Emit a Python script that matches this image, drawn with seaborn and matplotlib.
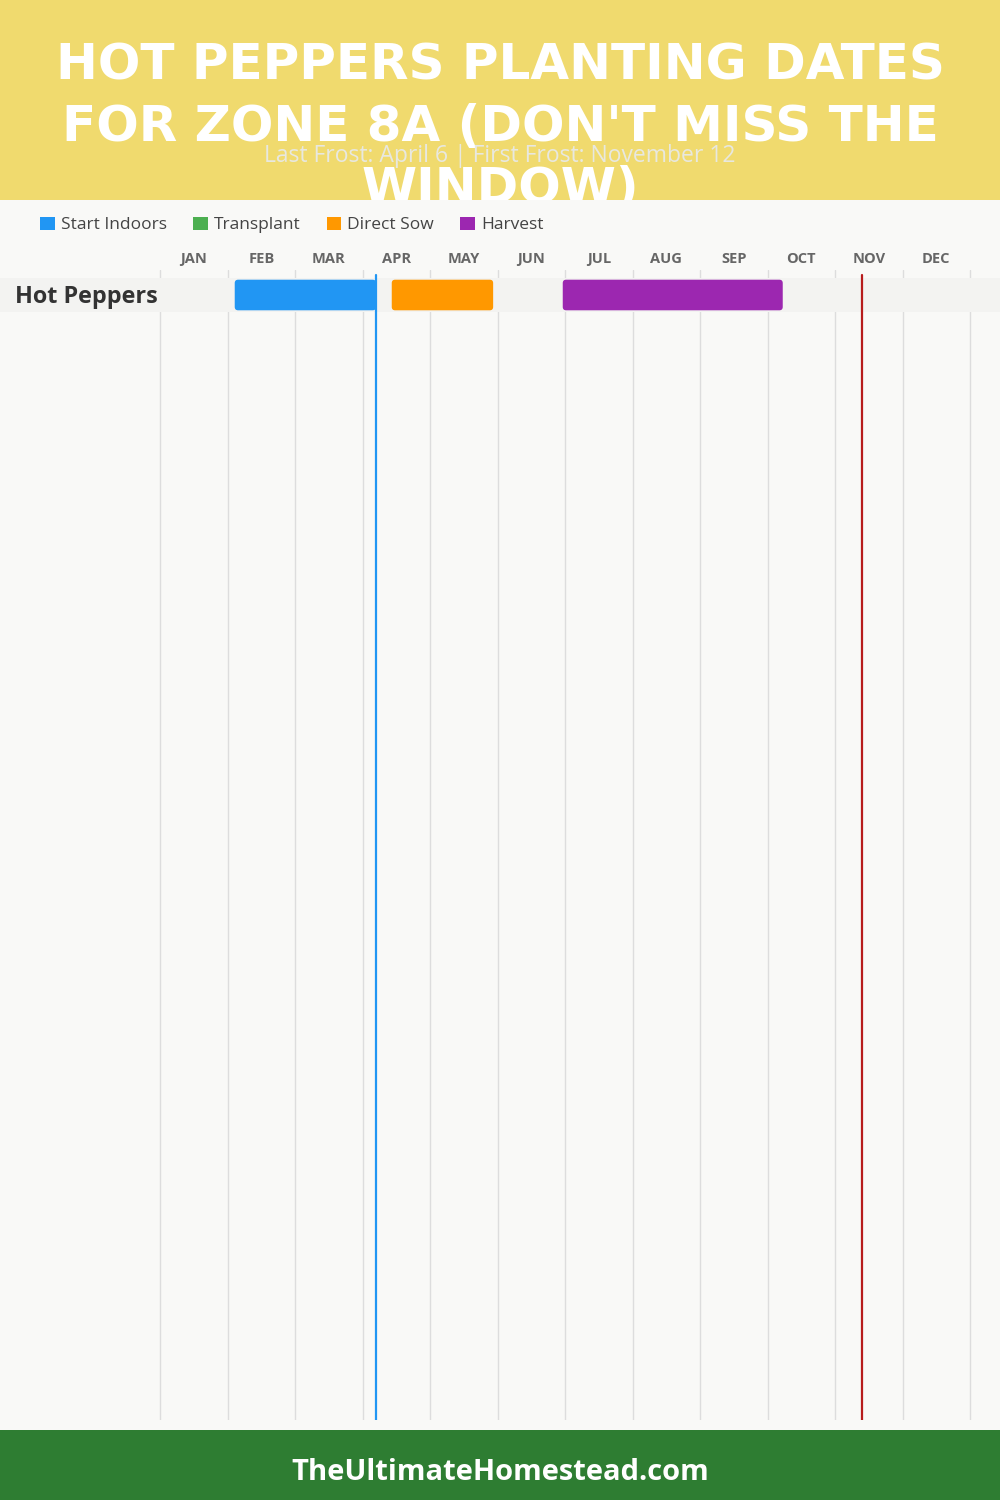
import matplotlib
matplotlib.use("Agg")
import matplotlib.pyplot as plt
from matplotlib.patches import Rectangle, FancyBboxPatch, Patch
import seaborn as sns
import pandas as pd

# ---------------- data ----------------
crops = ["Hot Peppers"]
phases = ["Start Indoors", "Direct Sow", "Harvest"]
phase_start = [(2, 3), (4, 13), (6, 29)]     # (month, day)
phase_end = [(4, 6), (5, 29), (10, 7)]
legend_labels = ["Start Indoors", "Transplant", "Direct Sow", "Harvest"]
legend_colors = ["#2196F3", "#4CAF50", "#FF9800", "#9C27B0"]
months = ["JAN", "FEB", "MAR", "APR", "MAY", "JUN", "JUL", "AUG", "SEP", "OCT", "NOV", "DEC"]
month_days = [31, 28, 31, 30, 31, 30, 31, 31, 30, 31, 30, 31]
last_frost = (4, 6)
first_frost = (11, 12)
title_lines = ["HOT PEPPERS PLANTING DATES", "FOR ZONE 8A (DON'T MISS THE", "WINDOW)"]
subtitle = "Last Frost: April 6 | First Frost: November 12"
footer = "TheUltimateHomestead.com"

phase_color = dict(zip(legend_labels, legend_colors))


def mpos(md):
    m, d = md
    return (m - 1) + d / month_days[m - 1]


df = pd.DataFrame({
    "crop": crops * len(phases),
    "phase": phases,
    "start": [mpos(s) for s in phase_start],
    "end": [mpos(e) for e in phase_end],
})
df["dur"] = df["end"] - df["start"]

# ---------------- style ----------------
sns.set_theme(style="white")
plt.rcParams["font.family"] = ["Open Sans", "DejaVu Sans"]

W, H = 1000, 1500
fig = plt.figure(figsize=(10, 15), dpi=100)
fig.patch.set_facecolor("#F9F9F7")


def fy(y):
    return 1 - y / H


def fx(x):
    return x / W


# header and footer bands
fig.patches.append(Rectangle((0, fy(200)), 1, 200 / H, transform=fig.transFigure,
                             facecolor="#F0DA6E", edgecolor="none", zorder=0))
fig.patches.append(Rectangle((0, 0), 1, 70 / H, transform=fig.transFigure,
                             facecolor="#2E7D32", edgecolor="none", zorder=0))

# title
for i, line in enumerate(title_lines):
    fig.text(0.5, fy(65 + 62 * i), line, ha="center", va="center", color="white",
             fontsize=36, fontweight="bold", family=["DejaVu Sans"], zorder=1)
fig.text(0.5, fy(156), subtitle, ha="center", va="center", color="#E8E8E0",
         fontsize=16.5, fontweight="normal", zorder=2)

# panel that covers the bottom of the title
panel = fig.add_axes([0, fy(1430), 1, (1430 - 200) / H])
panel.set_facecolor("#F9F9F7")
panel.set_axis_off()
panel.add_patch(Rectangle((0, 0), 1, 1, transform=panel.transAxes,
                          facecolor="#F9F9F7", edgecolor="none"))
panel.set_zorder(5)

# footer text
fig.text(0.5, fy(1473), footer, ha="center", va="center", color="white",
         fontsize=21, fontweight="bold", zorder=6)

# ---------------- gantt axes ----------------
mw = 67.5  # px per month
ax = fig.add_axes([0, fy(1420), 1, (1420 - 270) / H])
ax.set_zorder(6)
ax.patch.set_alpha(0)
ax.set_xlim(-160 / mw, (W - 160) / mw)
unit = 34.0
top_off = (295 - 270) / unit
ax.set_ylim((1420 - 270) / unit - top_off, -top_off)

for s in ax.spines.values():
    s.set_visible(False)

ax.set_axisbelow(True)
ax.set_xticks(range(13))
ax.set_xticks([i + 0.5 for i in range(12)], minor=True)
ax.set_xticklabels([])
ax.set_xticklabels(months, minor=True, fontsize=10.5, fontweight="bold", color="#666666")
ax.xaxis.tick_top()
ax.tick_params(axis="x", which="both", length=0, pad=3, top=False, labeltop=True)
ax.tick_params(axis="x", which="major", labeltop=False)
ax.grid(axis="x", which="major", color="#DDDDDD", linewidth=1)
ax.grid(axis="y", visible=False)
ax.set_yticks([])

# row band
for r, crop in enumerate(crops):
    ax.axhspan(r - 0.5, r + 0.5, color="#F3F3F1", zorder=1, lw=0)
    ax.text(15 / W, r + 0.05, crop, transform=ax.get_yaxis_transform(), ha="left", va="center",
            fontsize=16.8, fontweight="bold", color="#333333", zorder=5)

# bars
rows = df["crop"].map({c: i for i, c in enumerate(crops)})
bars = ax.barh(rows, df["dur"], left=df["start"], height=0.9,
               color=[phase_color[p] for p in df["phase"]], zorder=3)
aspect = mw / unit
for b in list(bars):
    x0, y0, w, h = b.get_x(), b.get_y(), b.get_width(), b.get_height()
    fb = FancyBboxPatch((x0, y0), w, h, boxstyle="round,pad=0,rounding_size=0.05",
                        mutation_aspect=aspect, facecolor=b.get_facecolor(),
                        edgecolor="none", zorder=3)
    b.remove()
    ax.add_patch(fb)

# frost lines
ymax = (1420 - 275) / (1420 - 270)
ax.axvline(mpos(last_frost), ymin=0, ymax=ymax, color="#2196F3", lw=1.6, zorder=4)
ax.axvline(mpos(first_frost), ymin=0, ymax=ymax, color="#B71C1C", lw=1.6, zorder=4)

# legend
handles = [Patch(facecolor=c, edgecolor="none", label=l) for l, c in zip(legend_labels, legend_colors)]
leg = fig.legend(handles=handles, loc="center left", bbox_to_anchor=(fx(40), fy(225)),
                 ncol=4, frameon=False, fontsize=12.5, handlelength=0.85, handleheight=0.85,
                 handletextpad=0.35, columnspacing=1.5, borderpad=0, borderaxespad=0)
for t in leg.get_texts():
    t.set_color("#444444")
leg.set_zorder(7)

fig.savefig("out.png", dpi=100, facecolor=fig.get_facecolor())
